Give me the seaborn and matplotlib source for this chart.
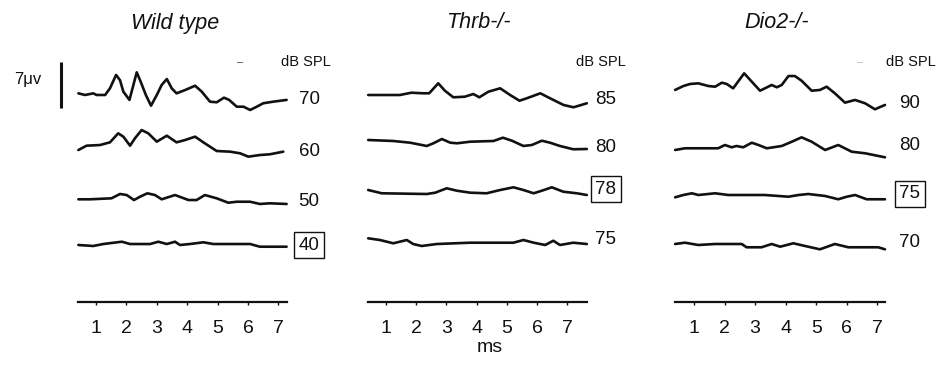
"""ABR waveforms: Wild type vs Thrb-/- vs Dio2-/- (recreated from figure)."""
import matplotlib
matplotlib.use('Agg')
import numpy as np
import pandas as pd
import matplotlib.pyplot as plt
import seaborn as sns

# --- Waveforms: time (ms), amplitude (uV, re. pre-stimulus level) ---
# Wild type
WT_70_T = [0.42, 0.64, 0.91, 1.02, 1.30, 1.46, 1.66, 1.79, 1.90, 2.10, 2.23, 2.34, 2.47, 2.64, 2.81, 3.00, 3.16,
           3.33, 3.49, 3.65, 3.93, 4.26, 4.48, 4.75, 4.97, 5.21, 5.38, 5.63, 5.85, 6.07, 6.29, 6.50, 6.83, 7.27]
WT_70_V = [0.1, -0.15, 0.1, -0.15, -0.15, 0.87, 2.9, 2.1, 0.35, -0.9, 1.37, 3.3, 1.87, -0.15, -1.78, -0.15, 1.37,
           2.28, 0.87, 0.1, 0.6, 1.26, 0.35, -1.17, -1.26, -0.56, -0.9, -1.93, -1.93, -2.43, -1.93, -1.41, -1.17, -0.9]
WT_60_T = [0.42, 0.69, 1.13, 1.46, 1.73, 1.90, 2.12, 2.28, 2.50, 2.72, 3.00, 3.33, 3.65, 3.93, 4.26, 4.53, 4.97,
           5.41, 5.74, 6.01, 6.39, 6.72, 7.16]
WT_60_V = [-0.46, 0.2, 0.3, 0.71, 2.08, 1.57, 0.2, 1.32, 2.58, 2.08, 0.81, 1.72, 0.71, 1.06, 1.57, 0.71, -0.61,
           -0.71, -0.96, -1.47, -1.22, -1.11, -0.71]
WT_50_T = [0.42, 0.80, 1.51, 1.79, 2.01, 2.25, 2.45, 2.69, 2.94, 3.16, 3.60, 4.04, 4.31, 4.58, 4.97, 5.35, 5.63,
           6.07, 6.39, 6.72, 7.27]
WT_50_V = [0.0, 0.0, 0.15, 0.81, 0.65, -0.11, 0.40, 0.91, 0.65, 0.0, 0.65, -0.11, -0.11, 0.65, 0.15, -0.52, -0.37,
           -0.37, -0.71, -0.61, -0.71]
WT_40_T = [0.42, 0.91, 1.24, 1.85, 2.12, 2.78, 3.05, 3.33, 3.60, 3.76, 4.09, 4.53, 4.86, 6.07, 6.39, 7.27]
WT_40_V = [0.0, -0.15, 0.15, 0.5, 0.15, 0.15, 0.5, 0.15, 0.5, 0.0, 0.15, 0.41, 0.15, 0.15, -0.26, -0.26]

# Thrb-/-
TH_85_T = [0.41, 0.80, 1.46, 1.84, 2.23, 2.43, 2.73, 2.95, 3.23, 3.61, 3.89, 4.09, 4.39, 4.78, 5.11, 5.42, 5.66,
           6.11, 6.33, 6.66, 6.88, 7.21, 7.65]
TH_85_V = [0.0, 0.0, 0.0, 0.35, 0.26, 0.26, 1.78, 0.65, -0.35, -0.26, 0.15, -0.35, 0.5, 1.02, 0.0, -0.87, -0.5,
           0.26, -0.26, -1.02, -1.52, -1.87, -1.26]
TH_80_T = [0.41, 1.24, 1.80, 2.35, 2.57, 2.85, 3.13, 3.35, 3.79, 4.56, 4.87, 5.17, 5.55, 5.83, 6.16, 6.43, 6.76,
           7.20, 7.65]
TH_80_V = [0.0, -0.15, -0.41, -0.91, -0.5, 0.15, -0.41, -0.5, -0.26, -0.15, 0.35, -0.11, -0.91, -0.76, -0.11,
           -0.41, -0.91, -1.41, -1.37]
TH_78_T = [0.41, 0.86, 2.35, 2.63, 3.01, 3.35, 3.79, 4.33, 4.78, 5.22, 5.55, 5.89, 6.16, 6.49, 6.87, 7.32, 7.65]
TH_78_V = [0.0, -0.5, -0.61, -0.41, 0.26, -0.11, -0.41, -0.5, 0.0, 0.41, 0.0, -0.5, -0.11, 0.41, -0.26, -0.5, -0.76]
TH_75_T = [0.41, 0.80, 1.24, 1.69, 1.90, 2.18, 2.68, 3.78, 5.22, 5.55, 5.89, 6.27, 6.54, 6.76, 7.20, 7.65]
TH_75_V = [0.0, -0.26, -0.76, -0.26, -0.87, -1.17, -0.87, -0.67, -0.67, -0.26, -0.67, -1.02, -0.37, -1.02, -0.67,
           -0.87]

# Dio2-/-
DI_90_T = [0.38, 0.65, 0.87, 1.14, 1.47, 1.69, 1.91, 2.07, 2.28, 2.64, 2.89, 3.16, 3.32, 3.54, 3.71, 3.87, 4.09,
           4.30, 4.52, 4.85, 5.12, 5.34, 5.61, 5.94, 6.27, 6.60, 6.92, 7.25]
DI_90_V = [-0.3, 0.3, 0.61, 0.71, 0.3, 0.2, 0.81, 0.61, -0.05, 2.23, 0.96, -0.41, -0.05, 0.46, 0.11, 0.46, 1.82,
           1.82, 1.11, -0.41, -0.3, 0.2, -0.81, -2.23, -1.82, -2.33, -3.24, -2.58]
DI_80_T = [0.38, 0.70, 1.79, 2.01, 2.23, 2.39, 2.61, 2.89, 3.11, 3.38, 3.87, 4.20, 4.52, 4.85, 5.29, 5.72, 6.16,
           6.60, 7.25]
DI_80_V = [0.0, 0.26, 0.26, 0.76, 0.41, 0.61, 0.41, 1.11, 0.76, 0.26, 0.61, 1.26, 1.93, 1.26, 0.0, 0.76, -0.26,
           -0.5, -1.11]
DI_75_T = [0.38, 0.65, 0.93, 1.14, 1.69, 2.12, 3.32, 4.09, 4.42, 4.74, 5.29, 5.72, 6.00, 6.27, 6.65, 7.25]
DI_75_V = [0.0, 0.35, 0.61, 0.35, 0.61, 0.35, 0.35, 0.09, 0.35, 0.5, 0.2, -0.3, 0.09, 0.35, -0.3, -0.3]
DI_70_T = [0.38, 0.70, 1.14, 1.69, 2.56, 2.72, 3.21, 3.54, 3.82, 4.25, 4.63, 5.12, 5.61, 6.05, 6.60, 7.03, 7.25]
DI_70_V = [0.0, 0.2, -0.15, 0.0, 0.0, -0.5, -0.5, 0.0, -0.41, 0.11, -0.3, -0.81, 0.0, -0.5, -0.5, -0.5, -0.81]

TITLES = ['Wild type', 'Thrb-/-', 'Dio2-/-']
LEVELS = [['70', '60', '50', '40'], ['85', '80', '78', '75'], ['90', '80', '75', '70']]
THRESHOLDS = ['40', '78', '75']
TRACES = [[(WT_70_T, WT_70_V), (WT_60_T, WT_60_V), (WT_50_T, WT_50_V), (WT_40_T, WT_40_V)],
          [(TH_85_T, TH_85_V), (TH_80_T, TH_80_V), (TH_78_T, TH_78_V), (TH_75_T, TH_75_V)],
          [(DI_90_T, DI_90_V), (DI_80_T, DI_80_V), (DI_75_T, DI_75_V), (DI_70_T, DI_70_V)]]
TICKS = [1, 2, 3, 4, 5, 6, 7]
SCALE_UV = 7

# --- Layout (pixels of the 945x371 canvas) ---
FIG_W, FIG_H = 945, 371
AX_BOTTOM, AX_TOP = 302, 55
UV_PER_PX = 7 / 46
ZERO_PX = [65.6, 355.8, 663.5]
PX_PER_MS = [30.4, 30.2, 30.55]
XMAX = [7.6, 7.9, 7.5]
TRACE_ROWS = [[94, 147, 199.3, 245], [95, 140, 190, 238.3], [88, 150, 197.3, 244]]
LABEL_ROWS = [[99, 152, 202, 245], [100, 148, 189, 240], [103, 146, 194, 243]]
LABEL_COL = [309, 606, 910]
TITLE_X = [175, 478, 777]
DBSPL_X = [306, 601, 911]
INK = '#111111'

sns.set_theme(style='white')
plt.rcParams['font.family'] = ['Liberation Sans', 'DejaVu Sans']

fig = plt.figure(figsize=(FIG_W / 100, FIG_H / 100), dpi=100)
fig.patch.set_facecolor('white')

def uv(row_px):
    return (AX_BOTTOM - row_px) * UV_PER_PX

for i in range(3):
    left = ZERO_PX[i] / FIG_W
    width = XMAX[i] * PX_PER_MS[i] / FIG_W
    ax = fig.add_axes([left, 1 - AX_BOTTOM / FIG_H, width, (AX_BOTTOM - AX_TOP) / FIG_H])
    frames = []
    for lvl, (t, v), row in zip(LEVELS[i], TRACES[i], TRACE_ROWS[i]):
        frames.append(pd.DataFrame({'ms': t, 'uv': np.array(v) + uv(row), 'level': lvl}))
    df = pd.concat(frames, ignore_index=True)
    sns.lineplot(data=df, x='ms', y='uv', units='level', estimator=None, sort=False,
                 color=INK, linewidth=1.9, ax=ax, legend=False)
    for ln in ax.lines:
        ln.set_solid_joinstyle('round')
        ln.set_solid_capstyle('round')
    ax.set_xlim(0, XMAX[i])
    ax.set_ylim(0, (AX_BOTTOM - AX_TOP) * UV_PER_PX)
    ax.set_xlabel('')
    ax.set_ylabel('')
    ax.set_yticks([])
    ax.set_xticks(TICKS)
    ax.set_xticklabels([str(t) for t in TICKS])
    ax.tick_params(axis='x', length=2, width=1, color=INK, pad=11, labelsize=14, labelcolor=INK, bottom=True)
    for s in ['top', 'right', 'left']:
        ax.spines[s].set_visible(False)
    ax.spines['bottom'].set_bounds(df['ms'].min(), df['ms'].max())
    ax.spines['bottom'].set_linewidth(1.6)
    ax.spines['bottom'].set_color(INK)
    ax.patch.set_alpha(0)

    # level labels, threshold boxed
    xl = (LABEL_COL[i] - ZERO_PX[i]) / PX_PER_MS[i]
    for lvl, row in zip(LEVELS[i], LABEL_ROWS[i]):
        box = None
        if lvl == THRESHOLDS[i]:
            box = dict(boxstyle='square,pad=0.22', fc='white', ec=INK, lw=1)
        ax.text(xl, uv(row), lvl, ha='center', va='center', fontsize=13.5, color=INK,
                clip_on=False, bbox=box)

    fig.text(TITLE_X[i] / FIG_W, 1 - 23 / FIG_H, TITLES[i], ha='center', va='center',
             fontsize=15.5, style='italic', color=INK)
    fig.text(DBSPL_X[i] / FIG_W, 1 - 62 / FIG_H, 'dB SPL', ha='center', va='center',
             fontsize=10.5, color=INK)

    if i == 0:
        # 7 uV scale bar
        xs = (61 - ZERO_PX[0]) / PX_PER_MS[0]
        y0 = uv(108)
        ax.plot([xs, xs], [y0, y0 + SCALE_UV], color=INK, lw=2.2, clip_on=False, solid_capstyle='butt')
        ax.text((28 - ZERO_PX[0]) / PX_PER_MS[0], uv(80), f'{SCALE_UV}\u03bcv', ha='center', va='center',
                fontsize=12, color=INK, clip_on=False)

# small specks next to "dB SPL" in the original
fig.text(240 / FIG_W, 1 - 62 / FIG_H, '\u2013', ha='center', va='center', fontsize=8, color='#444444')
fig.text(860 / FIG_W, 1 - 62 / FIG_H, '\u2013', ha='center', va='center', fontsize=8, color='#bbbbbb')

fig.text(490 / FIG_W, 1 - 348 / FIG_H, 'ms', ha='center', va='center', fontsize=14, color=INK)

fig.savefig('out.png', dpi=100, facecolor='white')
plt.close(fig)
print('Saved: out.png')
